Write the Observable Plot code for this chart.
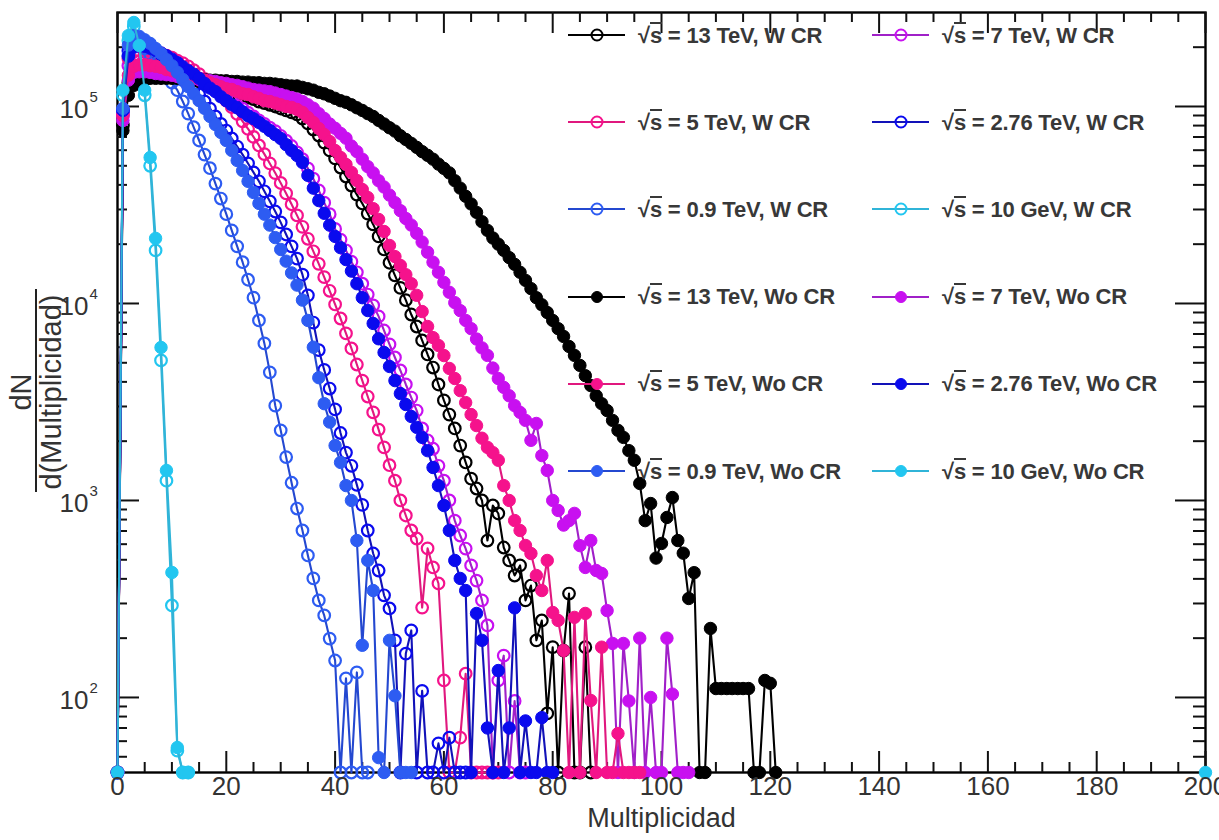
<!DOCTYPE html>
<html><head><meta charset="utf-8">
<script src="https://cdn.jsdelivr.net/npm/d3@7"></script>
<script src="https://cdn.jsdelivr.net/npm/@observablehq/plot@0.6"></script>
<style>
body{margin:0;background:#fff;}
#wrap{position:relative;width:1219px;height:840px;overflow:hidden;font-family:"Liberation Sans",Arial,sans-serif;}
.leg{position:absolute;height:24px;display:flex;align-items:center;white-space:nowrap;}
.leg svg{flex:none;}
.lt{font-weight:bold;font-size:22px;color:#383838;margin-left:13px;letter-spacing:-0.2px;}
.ov{border-top:2px solid #383838;line-height:1;display:inline-block;padding-top:1px;}
</style></head><body><div id="wrap"></div><script>
// ---- data (index = multiplicity) ----
const xTickValues = [0,20,40,60,80,100,120,140,160,180,200];
const yDecades = [100,1000,10000,100000];
const energies = ["13 TeV","7 TeV","5 TeV","2.76 TeV","0.9 TeV","10 GeV"];
const crLabels = ["W CR","Wo CR"];
const xTitle = "Multiplicidad";
const yTitleNum = "dN";
const yTitleDen = "d(Multiplicidad)";

const wcr13 = [0,80200,132000,152000,158000,158000,156000,154000,152000,149000,
147000,144000,142000,139000,136000,134000,131000,128000,125000,122000,
119000,118000,115000,112000,111000,109000,106000,104000,102000,100000,
97700,95500,93300,91100,86900,82000,76400,71200,65600,59800,
54500,49000,44100,39700,35700,32200,28600,25200,21900,18800,
16100,13900,12000,10400,8790,7640,6490,5510,4730,3880,
3220,2730,2320,1900,1560,1290,1150,1000,626,943,
859,577,496,416,468,311,370,195,246,83,
180,0,173,337,0,0,180,0];
const wcr7 = [0,90000,161000,181000,181000,176000,174000,173000,171000,169000,
167000,161000,155000,149000,144000,137000,132000,126000,121000,115000,
111000,106000,101000,97500,93000,89000,85000,81500,78000,75000,
71000,67000,63000,58500,54000,48500,43000,37500,32500,28400,
23900,21100,18600,16300,14400,12600,11100,9780,8600,7290,
6200,5320,4570,3880,3330,2860,2320,2020,1830,1500,
1260,1000,790,664,570,468,392,311,232,0,
122,163,0,96,0,0];
const wcr5 = [0,93300,175000,190000,192000,192000,190000,188000,186000,181000,
177000,171000,166000,160000,153000,146000,138000,131000,123000,115000,
107000,99300,91600,84100,76900,70100,63400,57300,51400,45900,
40900,36200,31900,28000,24500,21300,18400,15900,13600,11600,
9890,8390,7050,5910,4900,4060,3370,2800,2290,1860,
1510,1260,1000,839,704,641,286,571,457,379,
122,0,0,62.5,132,0,0,0,0,0,0];
const wcr276 = [0,95500,192000,211000,211000,207000,199000,192000,184000,175000,
167000,155000,146000,136000,124000,115000,106000,97500,89000,81500,
75500,68800,62600,57000,51400,46300,41700,37100,33000,29300,
25800,22400,19500,16900,14000,11000,8000,5800,4600,3700,
2900,2200,1750,1500,1200,950,704,538,441,330,
283,195,0,167,219,0,108,0,0,58.5,
0,62.5,0,0,0];
const wcr09 = [0,95500,181000,211000,211000,197000,184000,171000,157000,144000,
132000,121000,106000,92000,78500,67200,57000,48600,40600,34100,
28400,23500,19500,16200,13200,10700,8200,6270,4470,3030,
2270,1660,1230,910,704,526,402,311,261,199,
154,0,125,0,134,0,0];
const wcr10 = [0,114000,216000,255000,204000,114000,50000,18600,5140,1260,293,53.7,0,0];

const woc13 = [0,75500,114000,128000,134000,137000,139000,139000,139000,139000,
139000,139000,138000,138000,137000,137000,137000,136000,136000,135000,
135000,134000,134000,133000,133000,132000,132000,131000,131000,130000,
129000,128000,127000,127000,125000,123000,121000,118000,116000,113000,
110000,107000,105000,102000,98500,95500,92000,89000,85000,81500,
78000,75000,71000,68000,65000,62000,59000,56500,54000,51000,
48500,46000,42000,38500,35000,32000,29000,26000,23500,21500,
20000,18600,17100,15800,14400,13100,11900,10700,9850,9000,
8200,7450,6800,6050,5450,4850,4300,3830,3400,3100,
2860,2550,2270,2090,1790,1600,1220,790,965,510,
605,820,1035,626,540,318,430,0,0,224,
111,111,111,111,111,111,111,0,0,122,
118,0];
const woc7 = [0,84900,136000,149000,150000,150000,149000,147000,146000,145000,
144000,142000,141000,140000,139000,137000,136000,135000,134000,132000,
131000,129000,128000,126000,124000,122000,121000,120000,119000,117000,
115000,113000,111000,109000,106000,102000,98000,92000,87000,81500,
77500,73000,69000,63000,59000,54000,49500,46000,42000,39000,
35500,32500,29600,27000,25000,22700,20500,18200,16200,14400,
12800,11400,10100,9200,8200,7450,6600,5950,5450,4700,
4160,3750,3400,3030,2800,2550,2020,2460,1690,1420,
1000,890,750,790,860,590,457,626,441,426,
276,188,0,188,96,0,200,0,100,0,
0,200,104,0,0,0];
const woc5 = [0,90000,144000,160000,163000,163000,161000,160000,158000,154000,
152000,149000,147000,144000,140000,139000,136000,132000,129000,126000,
123000,122000,119000,116000,115000,112000,110000,107000,106000,104000,
102000,100000,98900,96600,93300,87900,83000,77300,72100,66400,
59800,55100,50800,46300,42100,37900,34500,30300,26700,23200,
19700,17300,15600,14000,12600,11000,9100,7640,6710,6120,
5440,4680,4160,3610,3140,2730,2400,2070,1860,1750,
1600,1190,1000,791,704,591,538,416,349,496,
270,246,173,0,255,0,267,96.5,0,180,
0,0,65.6,0,0,0,0];
const woc276 = [0,95500,180000,200000,203000,202000,198000,193000,187000,181000,
174000,167000,159000,152000,146000,139000,131000,124000,119000,112000,
107000,102000,98500,94000,89700,86800,83000,79300,75500,72000,
68800,64000,59800,56400,52000,44700,38500,33300,28700,25000,
21900,19200,16700,14600,12600,10700,9210,7920,6620,5640,
4790,4060,3490,3070,2670,2350,2090,1790,1470,1190,
943,704,496,402,349,0,267,195,70,0,
137,0,70,285,0,76,0,0,79,0,
0];
const woc09 = [0,97800,205000,229000,227000,218000,209000,197000,186000,173000,
161000,149000,137000,126000,116000,107000,97800,89000,81000,73800,
67200,59800,53200,47300,41700,36600,32200,28400,25000,21600,
18800,16400,14300,12400,10400,8200,6000,4200,3100,2500,
1900,1560,1190,1000,626,184,496,349,49.5,0,
195,102,0,0,0];
const woc10 = [0,121000,229000,267000,204000,121000,55100,21400,5980,1420,431,55.7,0,0];
const woc10Edge = [[200,0]];

// ---- styles ----
const markerColor = {"13 TeV":"#000000","7 TeV":"#c810f0","5 TeV":"#f5128c","2.76 TeV":"#0a0aee","0.9 TeV":"#2d5cf2","10 GeV":"#22c6f0"};
const lineColor   = {"13 TeV":"#000000","7 TeV":"#a020c8","5 TeV":"#e0187e","2.76 TeV":"#1212b8","0.9 TeV":"#2448d0","10 GeV":"#30b4d8"};

const series = [
  {energy:energies[0], cr:crLabels[0], values:wcr13, open:true},
  {energy:energies[1], cr:crLabels[0], values:wcr7, open:true},
  {energy:energies[2], cr:crLabels[0], values:wcr5, open:true},
  {energy:energies[3], cr:crLabels[0], values:wcr276, open:true},
  {energy:energies[4], cr:crLabels[0], values:wcr09, open:true},
  {energy:energies[5], cr:crLabels[0], values:wcr10, open:true},
  {energy:energies[0], cr:crLabels[1], values:woc13, open:false},
  {energy:energies[1], cr:crLabels[1], values:woc7, open:false},
  {energy:energies[2], cr:crLabels[1], values:woc5, open:false},
  {energy:energies[3], cr:crLabels[1], values:woc276, open:false},
  {energy:energies[4], cr:crLabels[1], values:woc09, open:false},
  {energy:energies[5], cr:crLabels[1], values:woc10, open:false, extra:woc10Edge}
];

const YMIN = 41.6, YMAX = 3.0e5;
const W = 1219, H = 840, ML = 117, MR = 14, MT = 12, MB = 68;
const innerW = W - ML - MR, innerH = H - MT - MB;
const yPos = d => Math.max(d.v, YMIN);

const marks = [];
// ticks (ROOT style, inward, mirrored)
const xMinor = d3.range(0, 201, 5).filter(v => v % 20 !== 0);
const yMinor = [];
for (let e = 1; e <= 5; e++) for (let k = 2; k <= 9; k++) { const v = k * 10 ** e; if (v > YMIN && v < YMAX) yMinor.push(v); }
const tk = {stroke:"#111", strokeWidth:2};
marks.push(Plot.frame({stroke:"#000", strokeWidth:2.4}));
marks.push(Plot.tickX(xTickValues, {x:d=>d, insetTop:innerH-21, ...tk}));
marks.push(Plot.tickX(xTickValues, {x:d=>d, insetBottom:innerH-21, ...tk}));
marks.push(Plot.tickX(xMinor, {x:d=>d, insetTop:innerH-10, ...tk}));
marks.push(Plot.tickX(xMinor, {x:d=>d, insetBottom:innerH-10, ...tk}));
marks.push(Plot.tickY(yDecades, {y:d=>d, insetRight:innerW-22, ...tk}));
marks.push(Plot.tickY(yDecades, {y:d=>d, insetLeft:innerW-30, ...tk}));
marks.push(Plot.tickY(yMinor, {y:d=>d, insetRight:innerW-10, ...tk}));
marks.push(Plot.tickY(yMinor, {y:d=>d, insetLeft:innerW-12, ...tk}));

for (const s of series) {
  const rows = s.values.map((v, m) => ({m, v}));
  const pts = rows.concat((s.extra || []).map(([m, v]) => ({m, v})));
  const mc = markerColor[s.energy], lc = lineColor[s.energy];
  marks.push(Plot.line(rows, {x:"m", y:yPos, stroke:lc, strokeWidth:2.1}));
  marks.push(Plot.dot(pts, {x:"m", y:yPos, r:s.open ? 5.8 : 6.2, fill:s.open ? "none" : mc, stroke:mc, strokeWidth:s.open ? 2.2 : 1}));
}

// tick labels and x title
marks.push(Plot.text(xTickValues, {x:d=>d, frameAnchor:"bottom", dy:22, text:d=>String(d), fontSize:26, fill:"#333"}));
marks.push(Plot.text(yDecades, {y:d=>d, frameAnchor:"left", dx:-29, dy:3, textAnchor:"end", text:()=>"10", fontSize:26, fill:"#333"}));
marks.push(Plot.text(yDecades, {y:d=>d, frameAnchor:"left", dx:-28, dy:-9, textAnchor:"start", text:d=>String(Math.round(Math.log10(d))), fontSize:15, fill:"#333"}));
marks.push(Plot.text([xTitle], {frameAnchor:"bottom", dy:54, text:d=>d, fontSize:27, fill:"#333"}));

const chart = Plot.plot({
  width:W, height:H, marginLeft:ML, marginRight:MR, marginTop:MT, marginBottom:MB,
  x:{domain:[0,200], axis:null},
  y:{type:"log", domain:[YMIN, YMAX], axis:null},
  style:{fontFamily:"'Liberation Sans', Arial, sans-serif", background:"#fff", overflow:"hidden"},
  marks
});
const wrap = document.getElementById("wrap");
wrap.appendChild(chart);

// y title as a fraction dN / d(Multiplicidad), rotated
const svg = d3.select(chart);
const yc = MT + innerH / 2;
const titleG = svg.append("g").attr("font-family", "'Liberation Sans', Arial, sans-serif").attr("fill", "#333").attr("font-size", 29);
titleG.append("text").attr("transform", `translate(21,${yc}) rotate(-90)`).attr("text-anchor", "middle").attr("dy", "0.35em").text(yTitleNum);
titleG.append("text").attr("transform", `translate(51,${yc}) rotate(-90)`).attr("text-anchor", "middle").attr("dy", "0.35em").text(yTitleDen);
svg.append("line").attr("x1", 36).attr("x2", 36).attr("y1", yc - 103).attr("y2", yc + 100)
  .attr("stroke", "#222").attr("stroke-width", 2);

// legend (two columns, six rows)
const legX = [568, 872], legY0 = 35, legDY = 87.2;
series.forEach((s, i) => {
  const col = i % 2, row = Math.floor(i / 2);
  const div = document.createElement("div");
  div.className = "leg";
  div.style.left = legX[col] + "px";
  div.style.top = (legY0 + row * legDY - 12) + "px";
  const mc = markerColor[s.energy], lc = lineColor[s.energy];
  div.innerHTML = `<svg width="57" height="24"><line x1="0" x2="57" y1="12" y2="12" stroke="${lc}" stroke-width="2"/>` +
    `<circle cx="29" cy="12" r="5.5" fill="${s.open ? "none" : mc}" stroke="${mc}" stroke-width="${s.open ? 2 : 1}"/></svg>` +
    `<span class="lt">√<span class="ov">s</span> = ${s.energy}, ${s.cr}</span>`;
  wrap.appendChild(div);
});
</script></body></html>
